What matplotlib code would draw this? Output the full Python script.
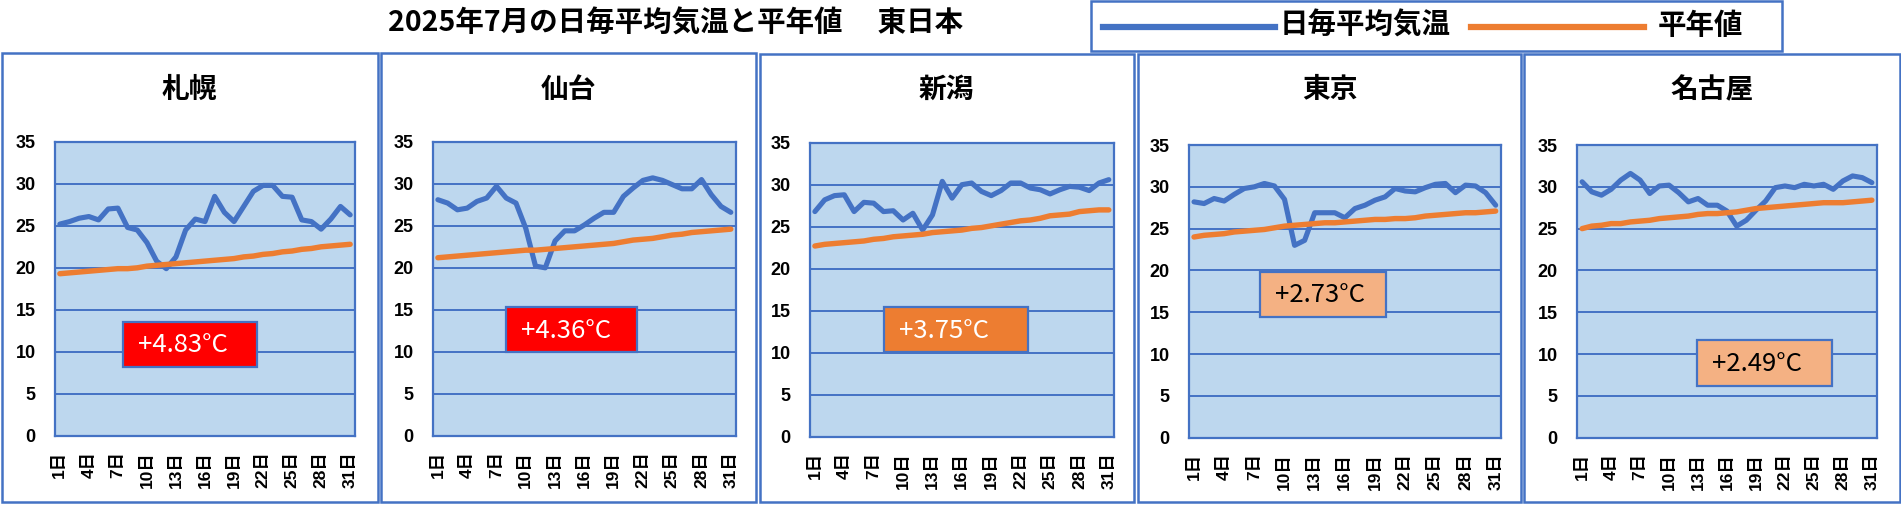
import matplotlib
matplotlib.use("Agg")
import matplotlib.pyplot as plt
from matplotlib.patches import Rectangle
from matplotlib.lines import Line2D

plt.rcParams['font.family'] = ['Liberation Sans', 'Noto Sans CJK JP', 'DejaVu Sans']

# ---------------- data ----------------
days = list(range(1, 32))
tick_days = [1, 4, 7, 10, 13, 16, 19, 22, 25, 28, 31]
tick_labels = [f"{d}日" for d in tick_days]

cities = ["札幌", "仙台", "新潟", "東京", "名古屋"]

sapporo_daily = [25.2, 25.5, 25.9, 26.1, 25.7, 27.0, 27.1, 24.8, 24.5, 23.0,
                 20.8, 19.9, 21.3, 24.5, 25.8, 25.5, 28.5, 26.6, 25.5, 27.3,
                 29.1, 29.8, 29.8, 28.5, 28.4, 25.7, 25.5, 24.6, 25.8, 27.3, 26.3]
sapporo_normal = [19.3, 19.4, 19.5, 19.6, 19.7, 19.8, 19.9, 19.9, 20.0, 20.2,
                  20.3, 20.4, 20.5, 20.6, 20.7, 20.8, 20.9, 21.0, 21.1, 21.3,
                  21.4, 21.6, 21.7, 21.9, 22.0, 22.2, 22.3, 22.5, 22.6, 22.7, 22.8]

sendai_daily = [28.1, 27.7, 26.9, 27.1, 27.9, 28.3, 29.7, 28.3, 27.7, 24.7,
                20.2, 20.0, 23.2, 24.4, 24.4, 25.1, 25.9, 26.6, 26.6, 28.5,
                29.5, 30.4, 30.7, 30.4, 29.9, 29.4, 29.4, 30.5, 28.7, 27.3, 26.6]
sendai_normal = [21.2, 21.3, 21.4, 21.5, 21.6, 21.7, 21.8, 21.9, 22.0, 22.1,
                 22.1, 22.2, 22.3, 22.4, 22.5, 22.6, 22.7, 22.8, 22.9, 23.1,
                 23.3, 23.4, 23.5, 23.7, 23.9, 24.0, 24.2, 24.3, 24.4, 24.5, 24.6]

niigata_daily = [26.8, 28.2, 28.7, 28.8, 26.8, 27.9, 27.8, 26.8, 26.9, 25.8,
                 26.6, 24.6, 26.4, 30.4, 28.4, 30.0, 30.2, 29.2, 28.7, 29.3,
                 30.2, 30.2, 29.6, 29.4, 28.9, 29.4, 29.8, 29.7, 29.3, 30.2, 30.6]
niigata_normal = [22.7, 22.9, 23.0, 23.1, 23.2, 23.3, 23.5, 23.6, 23.8, 23.9,
                  24.0, 24.1, 24.3, 24.4, 24.5, 24.6, 24.8, 24.9, 25.1, 25.3,
                  25.5, 25.7, 25.8, 26.0, 26.3, 26.4, 26.5, 26.8, 26.9, 27.0, 27.0]

tokyo_daily = [28.2, 28.0, 28.6, 28.3, 29.1, 29.8, 30.0, 30.4, 30.1, 28.5,
               23.0, 23.6, 26.9, 26.9, 26.9, 26.3, 27.4, 27.8, 28.4, 28.8,
               29.8, 29.5, 29.4, 29.9, 30.3, 30.4, 29.3, 30.2, 30.1, 29.3, 27.8]
tokyo_normal = [24.0, 24.2, 24.3, 24.4, 24.6, 24.7, 24.8, 24.9, 25.1, 25.3,
                25.4, 25.5, 25.6, 25.7, 25.7, 25.8, 25.9, 26.0, 26.1, 26.1,
                26.2, 26.2, 26.3, 26.5, 26.6, 26.7, 26.8, 26.9, 26.9, 27.0, 27.1]

nagoya_daily = [30.6, 29.4, 29.0, 29.7, 30.8, 31.6, 30.8, 29.2, 30.1, 30.2,
                29.3, 28.2, 28.6, 27.8, 27.8, 27.1, 25.3, 26.0, 27.2, 28.3,
                29.9, 30.1, 29.9, 30.3, 30.1, 30.3, 29.7, 30.7, 31.3, 31.1, 30.5]
nagoya_normal = [25.0, 25.3, 25.4, 25.6, 25.6, 25.8, 25.9, 26.0, 26.2, 26.3,
                 26.4, 26.5, 26.7, 26.8, 26.8, 26.9, 27.0, 27.2, 27.4, 27.5,
                 27.6, 27.7, 27.8, 27.9, 28.0, 28.1, 28.1, 28.1, 28.2, 28.3, 28.4]

daily = [sapporo_daily, sendai_daily, niigata_daily, tokyo_daily, nagoya_daily]
normal = [sapporo_normal, sendai_normal, niigata_normal, tokyo_normal, nagoya_normal]
anomaly_labels = ["+4.83°C", "+4.36°C", "+3.75°C", "+2.73°C", "+2.49°C"]

# ---------------- style ----------------
W, H = 1901, 505
BLUE = "#4472C4"
ORANGE = "#ED7D31"
FACE = "#BDD7EE"
box_fill = ["#FF0000", "#FF0000", "#ED7D31", "#F4B183", "#F4B183"]
box_text = ["white", "white", "white", "black", "black"]

panels = [(2, 53, 377.5, 501.5), (380.5, 53, 755.5, 501.5), (760, 54, 1133.5, 501.5),
          (1138, 54, 1521, 501.5), (1524, 54, 1899.5, 501.5)]
axes_px = [(55, 141.7, 355, 436), (433, 141.7, 735.7, 436), (810, 142.7, 1113.7, 436.7),
           (1189, 145, 1500.7, 437.7), (1577.3, 145, 1876.7, 437.7)]
boxes_px = [(123, 322, 257, 367), (505.7, 307.3, 637, 351.7), (883.7, 307.3, 1028.3, 351.7),
            (1260, 271.7, 1385.7, 316.7), (1696.7, 340, 1831.7, 385.7)]


def fx(x):
    return x / W


def fy(y):
    return 1 - y / H


fig = plt.figure(figsize=(W / 100, H / 100), dpi=100)
fig.patch.set_facecolor("white")

CJK = ['Noto Sans CJK JP', 'DejaVu Sans']
TICKFAM = ['Liberation Sans', 'Noto Sans CJK JP']

for i in range(5):
    l, t, r, b = panels[i]
    fig.add_artist(Rectangle((fx(l), fy(b)), fx(r - l), (b - t) / H, transform=fig.transFigure,
                             fill=False, edgecolor=BLUE, linewidth=1.8, zorder=0))
    fig.text(fx((l + r) / 2), fy(90), cities[i], ha="center", va="center",
             fontsize=20, fontweight="bold", family=CJK)

    al, at, ar, ab = axes_px[i]
    ax = fig.add_axes([fx(al), fy(ab), fx(ar - al), (ab - at) / H])
    ax.set_facecolor(FACE)
    ax.set_xlim(0.5, 31.5)
    ax.set_ylim(0, 35)
    ax.set_yticks(range(0, 36, 5))
    ax.set_yticklabels([str(v) for v in range(0, 36, 5)], fontsize=13, fontweight="bold",
                       family=TICKFAM)
    ax.set_xticks(tick_days)
    ax.set_xticklabels(tick_labels, rotation=90, fontsize=12.5, fontweight="bold", family=TICKFAM)
    ax.tick_params(axis="both", length=0, colors="black")
    ax.tick_params(axis="y", pad=14)
    ax.tick_params(axis="x", pad=11)
    ax.grid(axis="y", color=BLUE, linewidth=1.4)
    ax.set_axisbelow(True)
    for s in ax.spines.values():
        s.set_color(BLUE)
        s.set_linewidth(1.6)
    ax.plot(days, daily[i], color=BLUE, linewidth=3.7, solid_joinstyle="round",
            solid_capstyle="round", zorder=3)
    ax.plot(days, normal[i], color=ORANGE, linewidth=3.9, solid_joinstyle="round",
            solid_capstyle="round", zorder=3)

    bl, bt, br, bb = boxes_px[i]
    fig.add_artist(Rectangle((fx(bl), fy(bb)), fx(br - bl), (bb - bt) / H, transform=fig.transFigure,
                             facecolor=box_fill[i], edgecolor=BLUE, linewidth=1.6, zorder=5))
    fig.text(fx(bl + 15), fy((bt + bb) / 2 + 1), anomaly_labels[i], ha="left", va="center",
             fontsize=18.5, color=box_text[i], family=CJK, zorder=6)

# main title
fig.text(fx(676), fy(24), "2025年7月の日毎平均気温と平年値\u3000 東日本", ha="center", va="center",
         fontsize=20.5, fontweight="bold", family=CJK)

# legend
fig.add_artist(Rectangle((fx(1091), fy(51)), fx(1782 - 1091), 50 / H, transform=fig.transFigure,
                         fill=False, edgecolor=BLUE, linewidth=1.8))
fig.add_artist(Line2D([fx(1103), fx(1275)], [fy(27), fy(27)], transform=fig.transFigure,
                      color=BLUE, linewidth=4.5))
fig.text(fx(1280), fy(26), "日毎平均気温", ha="left", va="center", fontsize=20.5,
         fontweight="bold", family=CJK)
fig.add_artist(Line2D([fx(1471), fx(1644)], [fy(27), fy(27)], transform=fig.transFigure,
                      color=ORANGE, linewidth=4.5))
fig.text(fx(1658), fy(26), "平年値", ha="left", va="center", fontsize=20.5,
         fontweight="bold", family=CJK)

fig.savefig("out.png", dpi=100)
